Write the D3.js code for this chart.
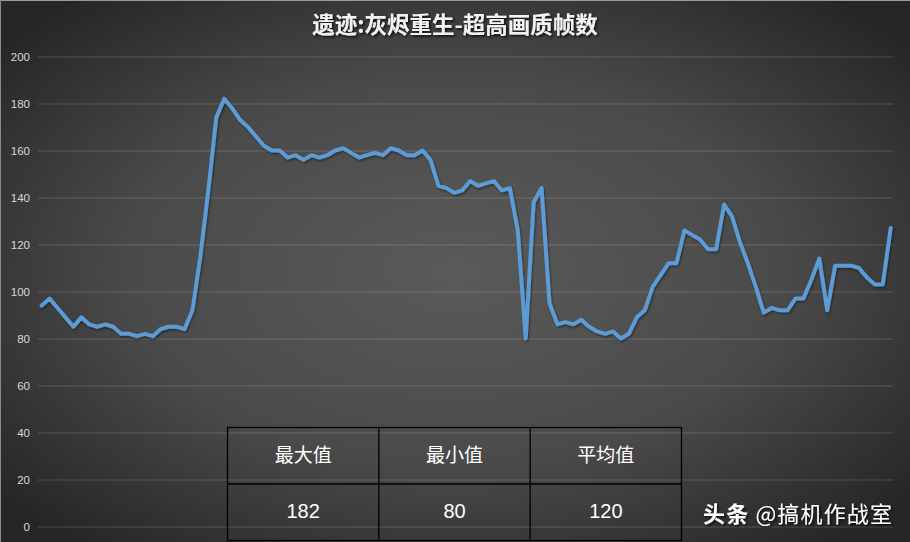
<!DOCTYPE html>
<html>
<head>
<meta charset="utf-8">
<script src="https://cdn.jsdelivr.net/npm/d3@7"></script>
<style>
  html, body { margin: 0; padding: 0; background: #2b2b2b; }
  svg { display: block; }
</style>
</head>
<body>
<svg id="chart" width="910" height="542"></svg>
<script>
const chartTitle = "遗迹:灰烬重生-超高画质帧数";
const frameIndex = d3.range(108);
const fpsValues = [
  94, 97, 93, 89, 85, 89, 86, 85, 86, 85,
  82, 82, 81, 82, 81, 84, 85, 85, 84, 92,
  115, 143, 174, 182, 178, 173, 170, 166, 162, 160,
  160, 157, 158, 156, 158, 157, 158, 160, 161, 159,
  157, 158, 159, 158, 161, 160, 158, 158, 160, 156,
  145, 144, 142, 143, 147, 145, 146, 147, 143, 144,
  126, 80, 138, 144, 95, 86, 87, 86, 88, 85,
  83, 82, 83, 80, 82, 89, 92, 102, 107, 112,
  112, 126, 124, 122, 118, 118, 137, 132, 121, 112,
  102, 91, 93, 92, 92, 97, 97, 105, 114, 92,
  111, 111, 111, 110, 106, 103, 103, 127
];
const yTickValues = [0, 20, 40, 60, 80, 100, 120, 140, 160, 180, 200];
const tableHeaders = ["最大值", "最小值", "平均值"];
const tableValues = ["182", "80", "120"];
const watermarkText = ["头条", " @搞机作战室"];

const W = 910, H = 542;
const svg = d3.select("#chart");
const defs = svg.append("defs");

const grad = defs.append("radialGradient").attr("id", "bg")
  .attr("cx", "50%").attr("cy", "50%").attr("r", "65%");
grad.append("stop").attr("offset", "0%").attr("stop-color", "#5a5a5a");
grad.append("stop").attr("offset", "55%").attr("stop-color", "#4a4a4a");
grad.append("stop").attr("offset", "100%").attr("stop-color", "#262626");

const shadow = defs.append("filter").attr("id", "txtShadow")
  .attr("x", "-10%").attr("y", "-30%").attr("width", "120%").attr("height", "160%");
shadow.append("feDropShadow").attr("dx", 1.5).attr("dy", 1.5).attr("stdDeviation", 1)
  .attr("flood-color", "#000").attr("flood-opacity", 0.8);

const lshadow = defs.append("filter").attr("id", "lineShadow")
  .attr("x", "-5%").attr("y", "-5%").attr("width", "110%").attr("height", "110%");
lshadow.append("feDropShadow").attr("dx", 1).attr("dy", 1.5).attr("stdDeviation", 1.2)
  .attr("flood-color", "#000").attr("flood-opacity", 0.45);

svg.append("rect").attr("width", W).attr("height", H).attr("fill", "url(#bg)");
svg.append("line").attr("x1", 0).attr("x2", W).attr("y1", 0.5).attr("y2", 0.5)
  .attr("stroke", "#9a9a9a").attr("stroke-width", 1);
svg.append("line").attr("x1", 0.5).attr("x2", 0.5).attr("y1", 0).attr("y2", H)
  .attr("stroke", "#8a8a8a").attr("stroke-width", 1);

const plotLeft = 38, plotRight = 893;
const x = d3.scalePoint().domain(frameIndex).range([41.7, 890.7]);
const y = d3.scaleLinear().domain([0, 200]).range([526.5, 56.5]);

const yAxis = d3.axisLeft(y).tickValues(yTickValues)
  .tickSizeInner(-(plotRight - plotLeft)).tickSizeOuter(0).tickPadding(8);
const gy = svg.append("g").attr("transform", `translate(${plotLeft},0)`).call(yAxis);
gy.select(".domain").remove();
gy.selectAll(".tick line").attr("stroke", "#ffffff").attr("stroke-opacity", 0.17).attr("stroke-width", 1);
gy.selectAll(".tick text").attr("fill", "#d9d9d9")
  .style("font-family", "Arial, 'Liberation Sans', sans-serif").style("font-size", "11.5px");

const line = d3.line().x((d, i) => x(frameIndex[i])).y(d => y(d));
svg.append("path").datum(fpsValues)
  .attr("d", line)
  .attr("fill", "none")
  .attr("stroke", "#5b9bd5")
  .attr("stroke-width", 4)
  .attr("stroke-linejoin", "round")
  .attr("stroke-linecap", "round")
  .attr("filter", "url(#lineShadow)");

svg.append("text")
  .attr("x", 455).attr("y", 33)
  .attr("text-anchor", "middle")
  .attr("fill", "#f2f2f2")
  .attr("filter", "url(#txtShadow)")
  .style("font-family", "'Noto Sans CJK SC', sans-serif")
  .style("font-weight", "bold")
  .style("font-size", "22.5px")
  .text(chartTitle);

// table
const tLeft = 227.5, tRight = 681.5, tTop = 427.5, tMid = 484, tBottom = 540.5;
const colX = d3.scaleBand().domain(d3.range(tableHeaders.length)).range([tLeft, tRight]);
const tg = svg.append("g");
tg.append("rect").attr("x", tLeft).attr("y", tTop).attr("width", tRight - tLeft)
  .attr("height", tBottom - tTop).attr("fill", "none").attr("stroke", "#000").attr("stroke-width", 1.3);
tg.append("line").attr("x1", tLeft).attr("x2", tRight).attr("y1", tMid).attr("y2", tMid)
  .attr("stroke", "#000").attr("stroke-width", 1.3);
d3.range(1, tableHeaders.length).forEach(i => {
  tg.append("line").attr("x1", colX(i)).attr("x2", colX(i)).attr("y1", tTop).attr("y2", tBottom)
    .attr("stroke", "#000").attr("stroke-width", 1.3);
});
tg.selectAll("text.h").data(tableHeaders).enter().append("text")
  .attr("class", "h")
  .attr("x", (d, i) => colX(i) + colX.bandwidth() / 2)
  .attr("y", 462)
  .attr("text-anchor", "middle")
  .attr("fill", "#ffffff")
  .style("font-family", "'Noto Sans CJK SC', sans-serif")
  .style("font-size", "19px")
  .text(d => d);
tg.selectAll("text.v").data(tableValues).enter().append("text")
  .attr("class", "v")
  .attr("x", (d, i) => colX(i) + colX.bandwidth() / 2)
  .attr("y", 518)
  .attr("text-anchor", "middle")
  .attr("fill", "#ffffff")
  .style("font-family", "Arial, 'Liberation Sans', sans-serif")
  .style("font-size", "20px")
  .text(d => d);

// watermark
const wm = svg.append("text")
  .attr("x", 703).attr("y", 522)
  .attr("fill", "#ffffff")
  .attr("filter", "url(#txtShadow)")
  .attr("textLength", 189)
  .attr("lengthAdjust", "spacing")
  .style("font-family", "'Noto Sans CJK SC', sans-serif")
  .style("font-size", "22px");
wm.append("tspan").style("font-weight", "bold").text(watermarkText[0]);
wm.append("tspan").text(watermarkText[1]);
</script>
</body>
</html>
